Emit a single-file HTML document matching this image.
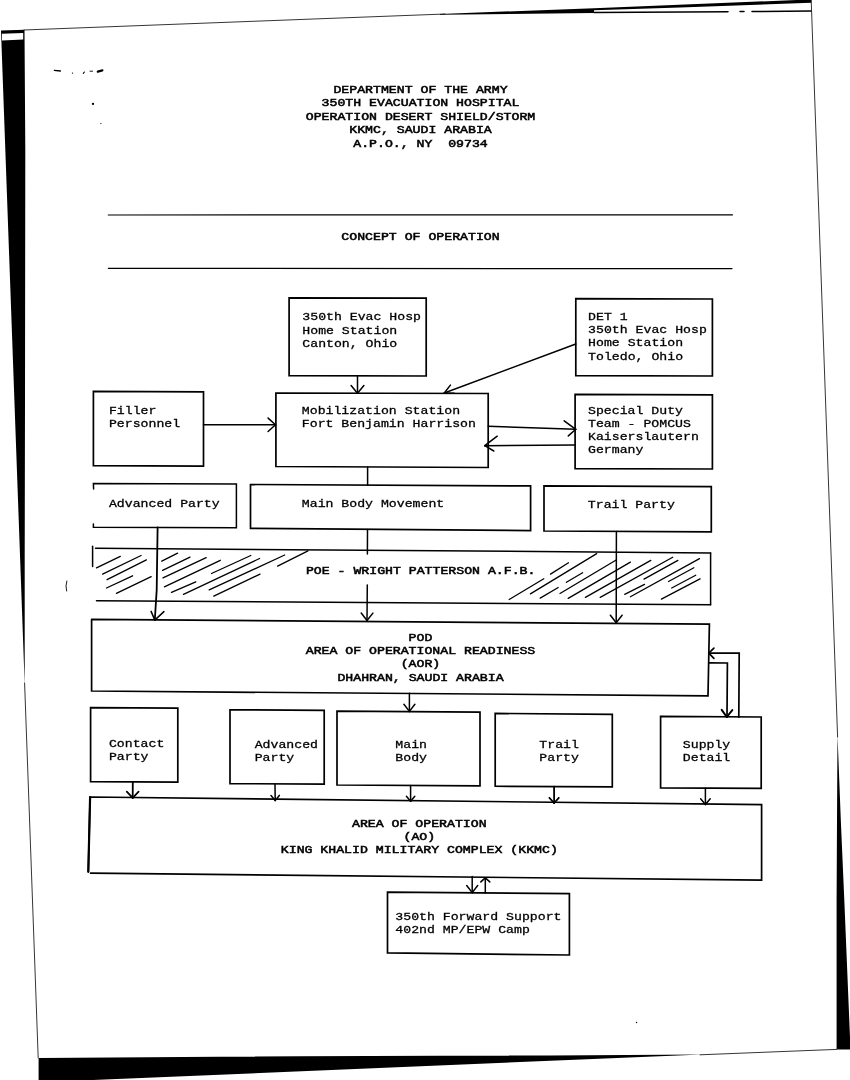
<!DOCTYPE html>
<html lang="en">
<head>
<meta charset="utf-8">
<title>Concept of Operation</title>
<style>
html,body{margin:0;padding:0;background:#fff;}
body{width:850px;height:1080px;overflow:hidden;}
svg{display:block;filter:grayscale(1);}
text{white-space:pre;font-family:"Liberation Mono",monospace;font-size:13.2px;fill:#000;stroke:#000;stroke-width:0.33px;}
text.b{stroke-width:0.62px;}
.ln{fill:none;stroke:#000;stroke-linecap:round;stroke-linejoin:miter;}
</style>
</head>
<body>
<svg width="850" height="1080" viewBox="0 0 850 1080">
<polygon points="1,30.4 24.5,29.8 25.3,150 25,400 24.7,560 24.7,685" fill="#000"/>
<polygon points="1.9,33.7 23.2,33.0 23.2,39.6 2.0,40.5" fill="#fff"/>
<path d="M24.6 683 L38.2 1058" class="ln" stroke-width="0.8"/>
<path d="M24 30 L445 14" class="ln" stroke-width="0.8"/>
<polygon points="440,13.9 594,8.2 811.3,-0.6 811.3,2.8 680,7.4 594,10.3 594,13.0 440,14.7" fill="#000"/>
<path d="M594 12.4 L728 11.7" class="ln" stroke-width="1.5"/>
<path d="M740 11.6 L744 11.6" class="ln" stroke-width="1.5"/>
<path d="M752 11.5 L811 11.1" class="ln" stroke-width="1.5"/>
<path d="M811.2 0 L837.6 737" class="ln" stroke-width="0.8"/>
<polygon points="837.5,735 840.8,820 844.3,900 850.5,1049.4 836.6,1049.4 836.6,900 837,820" fill="#000"/>
<polygon points="38.6,1058.1 300,1056.3 550,1055.4 702,1054.5 81,1080.5 38.6,1080.5" fill="#000"/>
<path d="M700 1054.8 L836.6 1049.4" class="ln" stroke-width="0.8"/>
<text transform="translate(420.5 92.5) scale(1 0.88)" class="b" text-anchor="middle" xml:space="preserve">DEPARTMENT OF THE ARMY</text>
<text transform="translate(420.5 106.0) scale(1 0.88)" class="b" text-anchor="middle" xml:space="preserve">350TH EVACUATION HOSPITAL</text>
<text transform="translate(420.5 119.5) scale(1 0.88)" class="b" text-anchor="middle" xml:space="preserve">OPERATION DESERT SHIELD/STORM</text>
<text transform="translate(420.5 133.0) scale(1 0.88)" class="b" text-anchor="middle" xml:space="preserve">KKMC, SAUDI ARABIA</text>
<text transform="translate(420.5 146.5) scale(1 0.88)" class="b" text-anchor="middle" xml:space="preserve">A.P.O., NY  09734</text>
<path d="M108.3 215.0 L732.5 214.8" class="ln" stroke-width="1.2"/>
<text transform="translate(420.5 240.2) scale(1 0.88)" class="b" text-anchor="middle" xml:space="preserve">CONCEPT OF OPERATION</text>
<path d="M108.4 268.4 L732 268.6" class="ln" stroke-width="1.2"/>
<path d="M289.1 297.8 L426.2 298.2 L426.2 376.0 L289.1 375.7 Z" class="ln" stroke-width="1.7"/>
<text transform="translate(302.3 320.4) scale(1 0.88)" text-anchor="start" xml:space="preserve">350th Evac Hosp</text>
<text transform="translate(302.3 333.6) scale(1 0.88)" text-anchor="start" xml:space="preserve">Home Station</text>
<text transform="translate(302.3 346.8) scale(1 0.88)" text-anchor="start" xml:space="preserve">Canton, Ohio</text>
<path d="M575.8 298.6 L712.4 299.0 L712.4 376.0 L575.8 375.6 Z" class="ln" stroke-width="1.7"/>
<text transform="translate(588.1 320.0) scale(1 0.88)" text-anchor="start" xml:space="preserve">DET 1</text>
<text transform="translate(588.1 333.2) scale(1 0.88)" text-anchor="start" xml:space="preserve">350th Evac Hosp</text>
<text transform="translate(588.1 346.3) scale(1 0.88)" text-anchor="start" xml:space="preserve">Home Station</text>
<text transform="translate(588.1 359.5) scale(1 0.88)" text-anchor="start" xml:space="preserve">Toledo, Ohio</text>
<path d="M93.4 391.3 L203.5 391.8 L203.5 466.1 L93.4 465.6 Z" class="ln" stroke-width="1.7"/>
<text transform="translate(108.9 413.7) scale(1 0.88)" text-anchor="start" xml:space="preserve">Filler</text>
<text transform="translate(108.9 427.0) scale(1 0.88)" text-anchor="start" xml:space="preserve">Personnel</text>
<path d="M275.9 393.0 L488.2 393.5 L488.2 467.5 L275.9 466.5 Z" class="ln" stroke-width="1.7"/>
<text transform="translate(301.8 414.0) scale(1 0.88)" text-anchor="start" xml:space="preserve">Mobilization Station</text>
<text transform="translate(301.8 427.3) scale(1 0.88)" text-anchor="start" xml:space="preserve">Fort Benjamin Harrison</text>
<path d="M575.1 394.4 L712.4 394.8 L712.4 469.0 L575.1 468.6 Z" class="ln" stroke-width="1.7"/>
<text transform="translate(588 414.2) scale(1 0.88)" text-anchor="start" xml:space="preserve">Special Duty</text>
<text transform="translate(588 427.3) scale(1 0.88)" text-anchor="start" xml:space="preserve">Team - POMCUS</text>
<text transform="translate(588 440.3) scale(1 0.88)" text-anchor="start" xml:space="preserve">Kaiserslautern</text>
<text transform="translate(588 453.4) scale(1 0.88)" text-anchor="start" xml:space="preserve">Germany</text>
<path d="M357.5 376 L357.5 393.2" class="ln" stroke-width="1.5"/>
<path d="M351.1 385.5 L357.5 393.2" class="ln" stroke-width="1.5"/>
<path d="M363.9 385.5 L357.5 393.2" class="ln" stroke-width="1.5"/>
<path d="M203.5 424.8 L275.5 424.8" class="ln" stroke-width="1.5"/>
<path d="M268.1 431.5 L275.5 424.8" class="ln" stroke-width="1.5"/>
<path d="M268.1 418.1 L275.5 424.8" class="ln" stroke-width="1.5"/>
<path d="M575.8 344 L444.3 393.0" class="ln" stroke-width="1.5"/>
<path d="M450.4 385.1 L444.3 393.0" class="ln" stroke-width="1.5"/>
<path d="M454.3 393.3 L444.3 393.0" class="ln" stroke-width="1.5"/>
<path d="M488.2 426.2 L575.6 429.2" class="ln" stroke-width="1.5"/>
<path d="M564.2 420.8 L575.8 429.3" class="ln" stroke-width="1.5"/>
<path d="M568.3 435.9 L575.8 429.3" class="ln" stroke-width="1.5"/>
<path d="M575.1 444.9 L484.8 445.7" class="ln" stroke-width="1.5"/>
<path d="M497.2 436.2 L484.8 445.7" class="ln" stroke-width="1.5"/>
<path d="M493.8 451.0 L484.8 445.7" class="ln" stroke-width="1.5"/>
<path d="M367.6 467 L367.6 485" class="ln" stroke-width="1.5"/>
<path d="M93.6 489 L93.4 483.4 L236.4 484.0 L236.4 527.8 L93.4 527.3 L93.4 524" class="ln" stroke-width="1.5"/>
<text transform="translate(108.9 507.3) scale(1 0.88)" text-anchor="start" xml:space="preserve">Advanced Party</text>
<path d="M250.5 484.5 L530.6 485.9 L530.6 530.6 L250.5 528.4 Z" class="ln" stroke-width="1.7"/>
<text transform="translate(301.8 507.3) scale(1 0.88)" text-anchor="start" xml:space="preserve">Main Body Movement</text>
<path d="M544 485.9 L711.3 486.6 L711.3 531.8 L544 531.0 Z" class="ln" stroke-width="1.7"/>
<text transform="translate(587.8 508.1) scale(1 0.88)" text-anchor="start" xml:space="preserve">Trail Party</text>
<path d="M95.5 548.2 L710.6 552.9" class="ln" stroke-width="1.5"/>
<path d="M96.5 600.7 L710.6 604.8" class="ln" stroke-width="1.5"/>
<path d="M710.6 552.9 L710.6 604.8" class="ln" stroke-width="1.5"/>
<path d="M92.6 546.2 L92.6 566.4" class="ln" stroke-width="1.5"/>
<text transform="translate(305.9 573.5) scale(1 0.88)" class="b" text-anchor="start" xml:space="preserve">POE - WRIGHT PATTERSON A.F.B.</text>
<path d="M96.5 567.9 L120.3 556.4" class="ln" stroke-width="1.3"/>
<path d="M102.6 574.1 L141.1 555.5" class="ln" stroke-width="1.3"/>
<path d="M107.1 579.7 L146.4 559.9" class="ln" stroke-width="1.3"/>
<path d="M106.5 588 L132.6 575.8" class="ln" stroke-width="1.3"/>
<path d="M116.4 593.3 L151.2 576.7" class="ln" stroke-width="1.3"/>
<path d="M161.8 561.2 L177.6 553.2" class="ln" stroke-width="1.3"/>
<path d="M162.6 570.4 L190 557.1" class="ln" stroke-width="1.3"/>
<path d="M163 577.9 L206.2 557.6" class="ln" stroke-width="1.3"/>
<path d="M164.4 586.8 L220.3 560.3" class="ln" stroke-width="1.3"/>
<path d="M171.5 592.4 L195.8 581.8" class="ln" stroke-width="1.3"/>
<path d="M183.5 594.4 L259.6 558.5" class="ln" stroke-width="1.3"/>
<path d="M211.5 573.5 L250.8 555.5" class="ln" stroke-width="1.3"/>
<path d="M209.2 589.9 L284.7 555" class="ln" stroke-width="1.3"/>
<path d="M213.8 596.1 L260 574.1" class="ln" stroke-width="1.3"/>
<path d="M277.6 566.1 L308 550.9" class="ln" stroke-width="1.3"/>
<path d="M509.2 599.5 L543.8 578.8" class="ln" stroke-width="1.3"/>
<path d="M530.4 593.9 L596.7 553.6" class="ln" stroke-width="1.3"/>
<path d="M550.5 574.1 L568.5 562.8" class="ln" stroke-width="1.3"/>
<path d="M540.2 598.1 L558.2 587.5" class="ln" stroke-width="1.3"/>
<path d="M560 593.5 L616.2 560" class="ln" stroke-width="1.3"/>
<path d="M566.4 582.3 L582.6 572.7" class="ln" stroke-width="1.3"/>
<path d="M568.2 598.4 L630.4 562.1" class="ln" stroke-width="1.3"/>
<path d="M585.4 597.4 L650.8 560.4" class="ln" stroke-width="1.3"/>
<path d="M600.2 597.4 L672.7 557.2" class="ln" stroke-width="1.3"/>
<path d="M644 579.1 L677.9 560.4" class="ln" stroke-width="1.3"/>
<path d="M624.7 594.3 L644.5 584.4" class="ln" stroke-width="1.3"/>
<path d="M630.4 596.7 L699.5 558.6" class="ln" stroke-width="1.3"/>
<path d="M668.5 581.5 L693.9 567.8" class="ln" stroke-width="1.3"/>
<path d="M671.7 588 L695.7 575.2" class="ln" stroke-width="1.3"/>
<path d="M661.4 599.1 L700 578.8" class="ln" stroke-width="1.3"/>
<path d="M157.6 527.5 L156.7 590 L154.8 620.1" class="ln" stroke-width="1.8"/>
<path d="M151.1 611.4 L154.8 620.1" class="ln" stroke-width="1.5"/>
<path d="M163.9 611.6 L154.8 620.1" class="ln" stroke-width="1.5"/>
<path d="M367.5 529.5 L367.4 554" class="ln" stroke-width="1.5"/>
<path d="M367.3 585 L367.0 620.5" class="ln" stroke-width="1.5"/>
<path d="M361.2 613.0 L367.0 620.5" class="ln" stroke-width="1.5"/>
<path d="M372.9 613.1 L367.0 620.5" class="ln" stroke-width="1.5"/>
<path d="M616.4 531.5 L616.2 622.7" class="ln" stroke-width="1.5"/>
<path d="M610.4 615.2 L616.2 622.7" class="ln" stroke-width="1.5"/>
<path d="M622.1 615.2 L616.2 622.7" class="ln" stroke-width="1.5"/>
<path d="M91.6 619.4 L709.4 624.2 L708.0 695.8 L91.6 691.0 L91.6 619.4" class="ln" stroke-width="1.7"/>
<text transform="translate(420.5 640.6) scale(1 0.88)" class="b" text-anchor="middle" xml:space="preserve">POD</text>
<text transform="translate(420.5 653.9) scale(1 0.88)" class="b" text-anchor="middle" xml:space="preserve">AREA OF OPERATIONAL READINESS</text>
<text transform="translate(420.5 667.2) scale(1 0.88)" class="b" text-anchor="middle" xml:space="preserve">(AOR)</text>
<text transform="translate(420.5 680.5) scale(1 0.88)" class="b" text-anchor="middle" xml:space="preserve">DHAHRAN, SAUDI ARABIA</text>
<path d="M409.4 693.3 L409.4 711.4" class="ln" stroke-width="1.5"/>
<path d="M403.9 704.3 L409.4 711.4" class="ln" stroke-width="1.5"/>
<path d="M414.9 704.3 L409.4 711.4" class="ln" stroke-width="1.5"/>
<path d="M90.6 707.6 L177.8 708.2 L177.8 782.2 L90.6 781.6 Z" class="ln" stroke-width="1.7"/>
<text transform="translate(108.9 746.8) scale(1 0.88)" text-anchor="start" xml:space="preserve">Contact</text>
<text transform="translate(108.9 760.1) scale(1 0.88)" text-anchor="start" xml:space="preserve">Party</text>
<path d="M230 709.8 L324.2 710.4 L324.2 784.2 L230 783.6 Z" class="ln" stroke-width="1.7"/>
<text transform="translate(254.7 747.5) scale(1 0.88)" text-anchor="start" xml:space="preserve">Advanced</text>
<text transform="translate(254.7 760.6) scale(1 0.88)" text-anchor="start" xml:space="preserve">Party</text>
<path d="M337 711.2 L480 712.2 L480 785.8 L337 785.0 Z" class="ln" stroke-width="1.7"/>
<text transform="translate(395.3 747.5) scale(1 0.88)" text-anchor="start" xml:space="preserve">Main</text>
<text transform="translate(395.3 760.6) scale(1 0.88)" text-anchor="start" xml:space="preserve">Body</text>
<path d="M495.2 713.4 L612.3 714.4 L612.3 786.9 L495.2 786.2 Z" class="ln" stroke-width="1.7"/>
<text transform="translate(539.3 747.6) scale(1 0.88)" text-anchor="start" xml:space="preserve">Trail</text>
<text transform="translate(539.3 760.7) scale(1 0.88)" text-anchor="start" xml:space="preserve">Party</text>
<path d="M660.6 716.4 L761.2 717.0 L761.2 788.4 L660.6 787.8 Z" class="ln" stroke-width="1.7"/>
<text transform="translate(682.8 748.4) scale(1 0.88)" text-anchor="start" xml:space="preserve">Supply</text>
<text transform="translate(682.8 761.2) scale(1 0.88)" text-anchor="start" xml:space="preserve">Detail</text>
<path d="M708.8 662.9 L727.4 663.0 L727.0 716.8" class="ln" stroke-width="1.7"/>
<path d="M721.7 709.8 L726.8 717.0" class="ln" stroke-width="2.0"/>
<path d="M732.3 710.1 L726.8 717.0" class="ln" stroke-width="2.0"/>
<path d="M738.8 717.2 L739.2 653.0 L708.8 653.2" class="ln" stroke-width="1.7"/>
<path d="M713.9 648.1 L708.8 653.2" class="ln" stroke-width="1.7"/>
<path d="M713.9 658.3 L708.8 653.2" class="ln" stroke-width="1.7"/>
<path d="M132.8 782 L132.7 797.8" class="ln" stroke-width="1.8"/>
<path d="M126.8 791.6 L132.7 797.8" class="ln" stroke-width="1.8"/>
<path d="M138.6 791.7 L132.7 797.8" class="ln" stroke-width="1.8"/>
<path d="M275 784 L275.2 800.4" class="ln" stroke-width="1.5"/>
<path d="M271.0 795.5 L275.2 800.4" class="ln" stroke-width="1.5"/>
<path d="M279.3 795.4 L275.2 800.4" class="ln" stroke-width="1.5"/>
<path d="M410.6 785.4 L410.6 801.2" class="ln" stroke-width="1.5"/>
<path d="M406.4 796.2 L410.6 801.2" class="ln" stroke-width="1.5"/>
<path d="M414.8 796.2 L410.6 801.2" class="ln" stroke-width="1.5"/>
<path d="M554.1 786.6 L554.1 803.0" class="ln" stroke-width="1.8"/>
<path d="M549.4 797.8 L554.1 803.0" class="ln" stroke-width="1.8"/>
<path d="M558.8 797.8 L554.1 803.0" class="ln" stroke-width="1.8"/>
<path d="M705.4 788.2 L705.4 804.4" class="ln" stroke-width="1.5"/>
<path d="M700.6 798.7 L705.4 804.4" class="ln" stroke-width="1.5"/>
<path d="M710.2 798.7 L705.4 804.4" class="ln" stroke-width="1.5"/>
<path d="M88.3 871.8 L90.1 797.0 L761.6 804.6 L761.6 880.1 L90.6 873.2" class="ln" stroke-width="1.7"/>
<path d="M88.3 871.8 L90.1 797.0" class="ln" stroke-width="2.2"/>
<text transform="translate(419.3 826.9) scale(1 0.88)" class="b" text-anchor="middle" xml:space="preserve">AREA OF OPERATION</text>
<text transform="translate(419.3 840.1) scale(1 0.88)" class="b" text-anchor="middle" xml:space="preserve">(AO)</text>
<text transform="translate(419.3 853.4) scale(1 0.88)" class="b" text-anchor="middle" xml:space="preserve">KING KHALID MILITARY COMPLEX (KKMC)</text>
<path d="M472.2 876.6 L472.2 892.6" class="ln" stroke-width="1.5"/>
<path d="M466.7 885.5 L472.2 892.6" class="ln" stroke-width="1.5"/>
<path d="M477.7 885.5 L472.2 892.6" class="ln" stroke-width="1.5"/>
<path d="M485.3 893 L485.3 877.9" class="ln" stroke-width="1.5"/>
<path d="M489.8 881.9 L485.3 877.9" class="ln" stroke-width="1.5"/>
<path d="M480.8 881.9 L485.3 877.9" class="ln" stroke-width="1.5"/>
<path d="M387.5 892.2 L569.4 893.6 L569.4 955.0 L387.5 952.9 Z" class="ln" stroke-width="1.7"/>
<text transform="translate(395.3 920.1) scale(1 0.88)" text-anchor="start" xml:space="preserve">350th Forward Support</text>
<text transform="translate(395.3 933.1) scale(1 0.88)" text-anchor="start" xml:space="preserve">402nd MP/EPW Camp</text>
<circle cx="93" cy="103.9" r="1.15" fill="#000"/>
<circle cx="100.9" cy="123.5" r="0.6" fill="#000"/>
<circle cx="636.5" cy="1022.5" r="0.7" fill="#000"/>
<circle cx="72.5" cy="73.1" r="0.7" fill="#000"/>
<path d="M54.3 70.3 L60.4 71.0" class="ln" stroke-width="1.3"/>
<path d="M83.3 73.4 L84.4 72.0" class="ln" stroke-width="1.1"/>
<path d="M90.0 71.2 L92.6 71.2" class="ln" stroke-width="0.9"/>
<path d="M97.8 71.6 L102.4 70.4" class="ln" stroke-width="2.2"/>
<path d="M66.8 581 Q65.2 586 66.6 591" class="ln" stroke-width="0.9"/>
</svg>
</body>
</html>
